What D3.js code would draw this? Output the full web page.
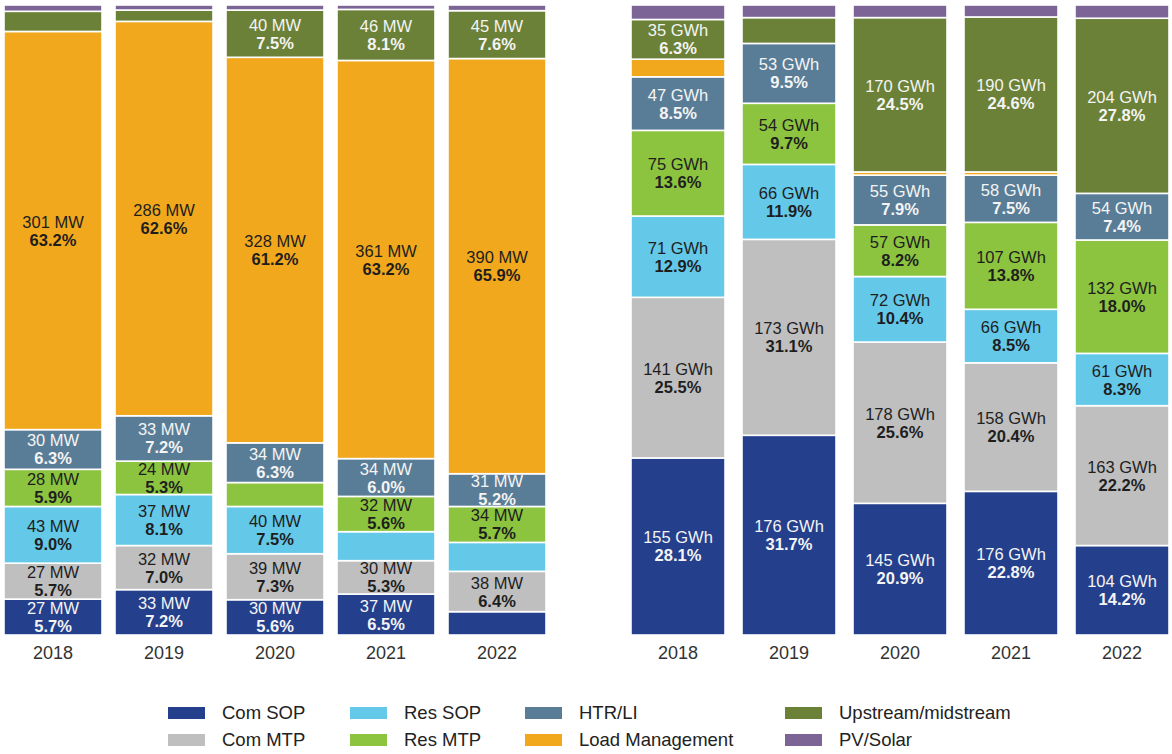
<!DOCTYPE html>
<html>
<head>
<meta charset="utf-8">
<script src="https://cdn.jsdelivr.net/npm/d3@7"></script>
<style>
    body { margin: 0; background: #fff; }
    svg { font-family: "Liberation Sans", Arial, sans-serif; }
</style>
</head>
<body>
<svg id="chart" width="1172" height="754"></svg>
<script>
const years = ["2018", "2019", "2020", "2021", "2022"];
const seriesNames = ["Com SOP", "Com MTP", "Res SOP", "Res MTP", "HTR/LI", "Load Management", "Upstream/midstream", "PV/Solar"];
const seriesColors = ["#243f8c", "#bfbfbf", "#64c8e8", "#8cc43f", "#5a7d97", "#f2a81d", "#6b8137", "#7c6596"];
const lightText = ["Com SOP", "HTR/LI", "Upstream/midstream"];

// left panel: MW (value) and share of year total (%)
const mwComSOP = [27, 33, 30, 37, 22];
const mwComMTP = [27, 32, 39, 30, 38];
const mwResSOP = [43, 37, 40, 26, 27];
const mwResMTP = [28, 24, 20, 32, 34];
const mwHTR = [30, 33, 34, 34, 31];
const mwLoad = [301, 286, 328, 361, 390];
const mwUpstream = [15, 8, 40, 46, 45];
const mwPV = [5, 4, 4, 4, 5];

const mwShareComSOP = [5.7, 7.2, 5.6, 6.5, 3.7];
const mwShareComMTP = [5.7, 7.0, 7.3, 5.3, 6.4];
const mwShareResSOP = [9.0, 8.1, 7.5, 4.6, 4.6];
const mwShareResMTP = [5.9, 5.3, 3.8, 5.6, 5.7];
const mwShareHTR = [6.3, 7.2, 6.3, 6.0, 5.2];
const mwShareLoad = [63.2, 62.6, 61.2, 63.2, 65.9];
const mwShareUpstream = [3.2, 1.8, 7.5, 8.1, 7.6];
const mwSharePV = [1.0, 0.8, 0.8, 0.7, 0.9];

// right panel: GWh
const gwhComSOP = [155, 176, 145, 176, 104];
const gwhComMTP = [141, 173, 178, 158, 163];
const gwhResSOP = [71, 66, 72, 66, 61];
const gwhResMTP = [75, 54, 57, 107, 132];
const gwhHTR = [47, 53, 55, 58, 54];
const gwhLoad = [15, 0, 3, 4, 0];
const gwhUpstream = [35, 23, 170, 190, 204];
const gwhPV = [13, 11, 14, 15, 15];

const gwhShareComSOP = [28.1, 31.7, 20.9, 22.8, 14.2];
const gwhShareComMTP = [25.5, 31.1, 25.6, 20.4, 22.2];
const gwhShareResSOP = [12.9, 11.9, 10.4, 8.5, 8.3];
const gwhShareResMTP = [13.6, 9.7, 8.2, 13.8, 18.0];
const gwhShareHTR = [8.5, 9.5, 7.9, 7.5, 7.4];
const gwhShareLoad = [2.8, 0, 0.5, 0.5, 0];
const gwhShareUpstream = [6.3, 4.1, 24.5, 24.6, 27.8];
const gwhSharePV = [2.3, 2.0, 2.0, 1.9, 2.1];

const mwValues = [mwComSOP, mwComMTP, mwResSOP, mwResMTP, mwHTR, mwLoad, mwUpstream, mwPV];
const mwShares = [mwShareComSOP, mwShareComMTP, mwShareResSOP, mwShareResMTP, mwShareHTR, mwShareLoad, mwShareUpstream, mwSharePV];
const gwhValues = [gwhComSOP, gwhComMTP, gwhResSOP, gwhResMTP, gwhHTR, gwhLoad, gwhUpstream, gwhPV];
const gwhShares = [gwhShareComSOP, gwhShareComMTP, gwhShareResSOP, gwhShareResMTP, gwhShareHTR, gwhShareLoad, gwhShareUpstream, gwhSharePV];

const svg = d3.select("#chart");
const color = d3.scaleOrdinal().domain(seriesNames).range(seriesColors);
const y = d3.scaleLinear().domain([0, 100]).range([635, 5]);

function drawPanel(x0, x1, pad, values, shares, unit) {
    const x = d3.scaleBand().domain(years).range([x0, x1]).paddingInner(pad).paddingOuter(0);

    // one row per year, keyed by series
    const rows = years.map((yr, i) => {
        const row = { year: yr };
        seriesNames.forEach((s, j) => {
            row[s] = shares[j][i];
            row[s + "_v"] = values[j][i];
        });
        return row;
    });

    const stacked = d3.stack().keys(seriesNames)(rows);
    const g = svg.append("g");

    const layer = g.selectAll("g.layer")
        .data(stacked)
        .enter().append("g")
        .attr("class", "layer")
        .attr("fill", d => color(d.key));

    layer.selectAll("rect")
        .data(d => d.filter(p => p[1] - p[0] > 0).map(p => ({ p: p, key: d.key })))
        .enter().append("rect")
        .attr("x", d => x(d.p.data.year))
        .attr("width", x.bandwidth())
        .attr("y", d => y(d.p[1]))
        .attr("height", d => y(d.p[0]) - y(d.p[1]))
        .attr("stroke", "#fff")
        .attr("stroke-width", 1.6);

    // labels only on segments big enough to hold them
    const labels = layer.selectAll("g.lbl")
        .data(d => d.filter(p => p[1] - p[0] >= 5).map(p => ({ p: p, key: d.key })))
        .enter().append("g")
        .attr("class", "lbl")
        .attr("transform", d => `translate(${x(d.p.data.year) + x.bandwidth() / 2},${y((d.p[0] + d.p[1]) / 2)})`)
        .attr("fill", d => lightText.includes(d.key) ? "#f4f4f4" : "#1e1e1e")
        .attr("text-anchor", "middle")
        .style("font-size", "16.5px");

    labels.append("text")
        .attr("y", -3)
        .text(d => `${d.p.data[d.key + "_v"]} ${unit}`);

    labels.append("text")
        .attr("y", 15)
        .style("font-weight", "bold")
        .text(d => `${d.p.data[d.key].toFixed(1)}%`);

    // year axis, no line or ticks
    const axis = g.append("g")
        .attr("transform", "translate(0,635)")
        .call(d3.axisBottom(x).tickSize(0).tickPadding(11));
    axis.select(".domain").remove();
    axis.selectAll("text")
        .attr("fill", "#333")
        .style("font-size", "18px")
        .style("font-family", "'Liberation Sans', Arial, sans-serif");
}

drawPanel(4, 546, 0.117, mwValues, mwShares, "MW");
drawPanel(631, 1169, 0.153, gwhValues, gwhShares, "GWh");

// legend, 4 columns x 2 rows
const legendCols = [168, 350, 525, 785];
const legendOrder = ["Com SOP", "Com MTP", "Res SOP", "Res MTP", "HTR/LI", "Load Management", "Upstream/midstream", "PV/Solar"];

const legend = svg.append("g")
    .selectAll("g")
    .data(legendOrder)
    .enter().append("g")
    .attr("transform", (d, i) => `translate(${legendCols[Math.floor(i / 2)]},${i % 2 === 0 ? 707 : 734})`);

legend.append("rect")
    .attr("width", 37)
    .attr("height", 12)
    .attr("fill", d => color(d));

legend.append("text")
    .attr("x", 54)
    .attr("y", 12)
    .attr("fill", "#222")
    .style("font-size", "18.5px")
    .text(d => d);
</script>
</body>
</html>
